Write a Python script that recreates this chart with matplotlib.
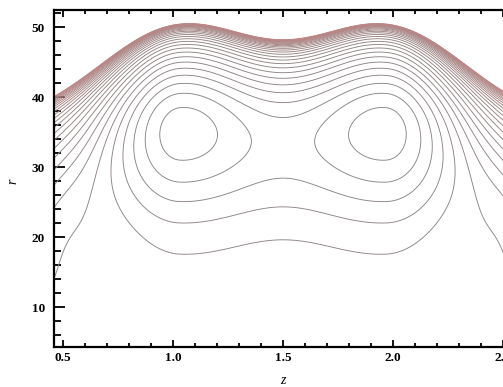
import numpy as np
import matplotlib
matplotlib.use("Agg")
import matplotlib.pyplot as plt
from matplotlib.colors import LinearSegmentedColormap
from matplotlib.ticker import MultipleLocator

# outer boundary of the field, r_env(z)
env_base = 36.6
env_bump = 13.5
env_width = 0.516
peak_z = [1.03, 1.97]

# broad step in r, flat between the two wells and fading outside them
step_depth = 2.1
step_r = 27.3
step_w = 6.5
cap_frac = 0.143     # the step levels off again above cap_r
cap_r = 41.5
cap_w = 2.5
inner_half = 0.47
outer_width = 0.553

# local wells around the two O-points
well_z = [1.03, 1.97]
well_r = 40.0
well_depth = 0.30
well_zwidth = 0.3
well_rwidth = 14.0

# extra dip near the left/right edges
edge_z = [0.46, 2.54]
edge_depth = 0.28
edge_zwidth = 0.2
edge_r = 23.5
edge_rwidth = 12.0

# contour levels: spacing and the r where the lowest level crosses z = 1.5
bottom_r = 19.6
level_step = 0.155
n_below, n_above = 12, 25

x_ticks = [0.5, 1.0, 1.5, 2.0, 2.5]
x_ticklabels = ["0.5", "1.0", "1.5", "2.0", "2.5"]
y_ticks = [10, 20, 30, 40, 50]


def envelope(z):
    return env_base + env_bump * sum(np.exp(-((z - p) / env_width) ** 2) for p in peak_z)


def sig(x):
    return 1.0 / (1.0 + np.exp(-x))


def field(z, r):
    R = envelope(z)
    u = np.clip(r / R, 0, 0.9999999)
    f = -np.log(1 - u)
    # step part
    beyond = np.maximum(0.0, np.abs(z - 1.5) - inner_half)
    amp = step_depth * np.exp(-(beyond / outer_width) ** 2)
    s0 = sig(-step_r / step_w)
    step = (sig((r - step_r) / step_w) - s0) / (1 - s0)
    step = step - cap_frac * sig((r - cap_r) / cap_w)
    f = f - amp * step
    # O-point wells
    for zc in well_z:
        f = f - well_depth * np.exp(-((z - zc) / well_zwidth) ** 2
                                    - ((r - well_r) / well_rwidth) ** 2)
    # edges
    for zc in edge_z:
        f = f - edge_depth * np.exp(-((z - zc) / edge_zwidth) ** 2
                                    - ((r - edge_r) / edge_rwidth) ** 2)
    return f


zs = np.linspace(0.459, 2.51, 700)
rs = np.linspace(4.2, 52.5, 1800)
Z, R = np.meshgrid(zs, rs)
F = np.ma.masked_where(R >= envelope(Z), field(Z, R))

anchor = field(1.5, bottom_r)
levels = anchor + level_step * np.arange(-n_below, n_above)

cmap = LinearSegmentedColormap.from_list("grayred", ["#858585", "#908484", "#bd8686"])
cols = cmap(np.linspace(0, 1, len(levels)) ** 0.9)

fig = plt.figure(figsize=(5.03, 3.87), dpi=100)
ax = fig.add_axes([54 / 503, 40 / 387, 451 / 503, 337 / 387])
ax.contour(Z, R, F, levels=levels, colors=cols, linewidths=0.65)

ax.set_xlim(0.459, 0.459 + 451 / 220)
ax.set_ylim(4.286, 4.286 + 337 / 7)

tick_font = {"family": "Liberation Serif", "weight": "bold", "size": 9.5}
ax.set_xticks(x_ticks)
ax.set_xticklabels(x_ticklabels, fontdict=tick_font)
ax.set_yticks(y_ticks)
ax.set_yticklabels([str(v) for v in y_ticks], fontdict=tick_font)
ax.xaxis.set_minor_locator(MultipleLocator(0.1))
ax.yaxis.set_minor_locator(MultipleLocator(2))
ax.tick_params(which="both", direction="in", top=True, right=False, width=1.3, color="black")
ax.tick_params(axis="x", which="major", length=5, pad=3.5)
ax.tick_params(axis="x", which="minor", length=3)
ax.tick_params(axis="y", which="major", length=8, pad=6.5)
ax.tick_params(axis="y", which="minor", length=5)
for s in ax.spines.values():
    s.set_linewidth(1.6)

fig.text(283 / 503, 1 - 380 / 387, "z", ha="center", va="center",
         family="Liberation Serif", style="italic", size=10)
fig.text(13 / 503, 1 - 181 / 387, "r", ha="center", va="center", rotation=90,
         family="Liberation Serif", style="italic", size=10)

fig.savefig("out.png", dpi=100)
